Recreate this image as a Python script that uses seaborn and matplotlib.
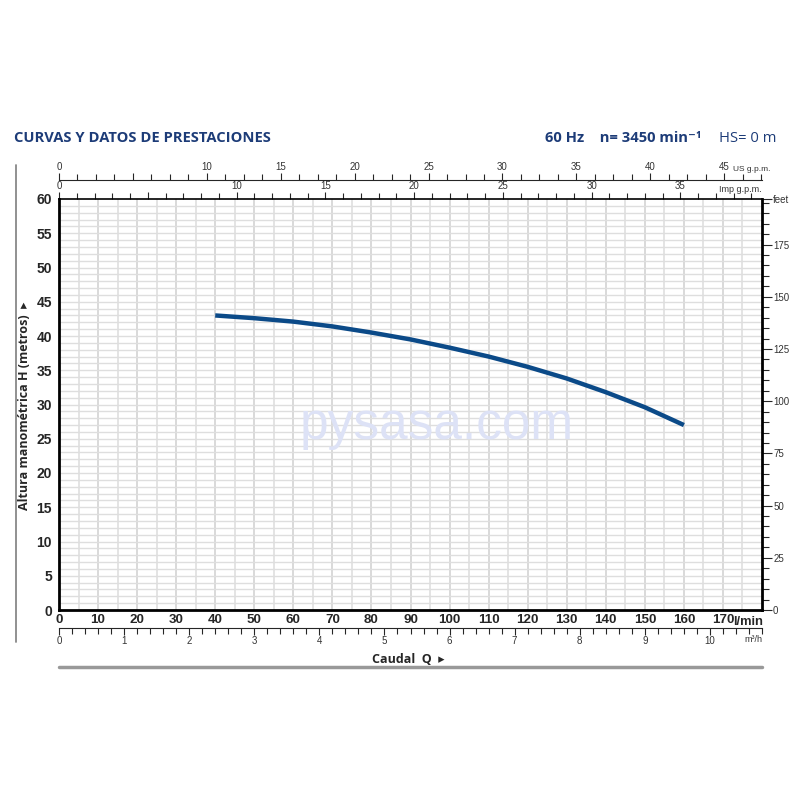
import warnings
warnings.filterwarnings("ignore")

import numpy as np
import pandas as pd
import matplotlib.pyplot as plt
import matplotlib.transforms as mtransforms
from matplotlib.lines import Line2D
import seaborn as sns

sns.set_theme(style="white")
plt.rcParams["font.family"] = ["Liberation Sans", "DejaVu Sans"]

# pump curve (flow in l/min, head in m)
flow_lmin = [40, 50, 60, 70, 80, 90, 100, 110, 120, 130, 140, 150, 160]
head_m = [43.0, 42.6, 42.1, 41.4, 40.5, 39.5, 38.3, 37.0, 35.5, 33.8, 31.8, 29.6, 27.0]

lmin_ticks = list(range(0, 180, 10))
head_ticks = list(range(0, 65, 5))
m3h_ticks = list(range(0, 11))
feet_ticks = list(range(0, 200, 25))
us_ticks = list(range(0, 50, 5))
imp_ticks = list(range(0, 40, 5))

NAVY = "#1d3c78"
CURVE = "#0b4a88"
GREY = "#333333"
HEAD_FONT = ["Open Sans", "DejaVu Sans"]

df = pd.DataFrame({"Q": flow_lmin, "H": head_m})

fig = plt.figure(figsize=(8, 8), dpi=100)
ax = fig.add_axes([0.07375, 0.2375, 0.87875, 0.51375])

# grid
for x in np.arange(5, 180, 5):
    ax.axvline(x, color="#cfcfcf" if x % 10 == 0 else "#dcdcdc", lw=1.1, zorder=0)
for y in np.arange(1, 60, 1):
    ax.axhline(y, color="#dedede", lw=1.0, zorder=0)

sns.lineplot(data=df, x="Q", y="H", ax=ax, color=CURVE, lw=3.2,
             solid_capstyle="butt", zorder=3)

ax.set_xlim(0, 180)
ax.set_ylim(0, 60)
ax.set_xlabel("")
ax.set_ylabel("")
for s in ["left", "bottom", "right"]:
    ax.spines[s].set_linewidth(2)
    ax.spines[s].set_color("black")
ax.spines["top"].set_linewidth(1.2)
ax.spines["top"].set_color("black")

ax.set_xticks(lmin_ticks)
ax.set_xticklabels([str(v) for v in lmin_ticks], fontweight="bold", fontsize=9.6)
ax.set_yticks(head_ticks)
ax.set_yticklabels([str(v) for v in head_ticks], fontweight="bold", fontsize=10)
ax.tick_params(axis="x", length=0, pad=3)
ax.tick_params(axis="y", length=0, pad=5)
ax.text(180.3, -0.014, "l/min", transform=mtransforms.blended_transform_factory(ax.transData, ax.transAxes),
        ha="right", va="top", fontsize=9.3, fontweight="bold")

# bottom m3/h scale
sec_m3 = ax.secondary_xaxis(-0.044, functions=(lambda q: q * 0.06, lambda m: m / 0.06))
sec_m3.set_xticks(m3h_ticks)
sec_m3.set_xticklabels([str(v) for v in m3h_ticks], fontsize=7, color=GREY)
sec_m3.set_xticks(np.arange(0, 10.81, 0.2), minor=True)
sec_m3.tick_params(which="major", direction="out", length=5, width=0.8, pad=1)
sec_m3.tick_params(which="minor", direction="out", length=4, width=0.8)
sec_m3.spines["bottom"].set_linewidth(0.8)
ax.text(180, -0.071, "m³/h", transform=mtransforms.blended_transform_factory(ax.transData, ax.transAxes),
        ha="right", va="center", fontsize=6.5, color=GREY)

# top Imp g.p.m. scale on the frame
sec_imp = ax.secondary_xaxis("top", functions=(lambda q: q / 4.546, lambda g: g * 4.546))
sec_imp.set_xticks(imp_ticks)
sec_imp.set_xticklabels(["" if v == 5 else str(v) for v in imp_ticks], fontsize=7, color=GREY)
sec_imp.set_xticks(np.arange(0, 39.6, 1), minor=True)
sec_imp.tick_params(which="major", direction="out", length=5, width=0.8, pad=0.5)
sec_imp.tick_params(which="minor", direction="out", length=4, width=0.8)
sec_imp.spines["top"].set_visible(False)
ax.text(1.0, 1.024, "Imp g.p.m.", transform=ax.transAxes, ha="right", va="center",
        fontsize=6.5, color=GREY)

# top US g.p.m. scale
sec_us = ax.secondary_xaxis(1.046, functions=(lambda q: q / 3.785, lambda g: g * 3.785))
sec_us.set_xticks(us_ticks)
sec_us.set_xticklabels(["" if v == 5 else str(v) for v in us_ticks], fontsize=7, color=GREY)
sec_us.set_xticks(np.arange(0, 47.6, 1.25), minor=True)
sec_us.tick_params(which="major", direction="out", length=5, width=0.8, pad=0.5)
sec_us.tick_params(which="minor", direction="out", length=4, width=0.8)
sec_us.spines["top"].set_linewidth(0.8)
ax.text(0.959, 1.072, "US g.p.m.", transform=ax.transAxes, ha="left", va="center",
        fontsize=6, color=GREY)

# right feet scale
sec_ft = ax.secondary_yaxis("right", functions=(lambda h: h * 3.28084, lambda f: f / 3.28084))
sec_ft.set_yticks(feet_ticks + [60 * 3.28084])
sec_ft.set_yticklabels([str(v) for v in feet_ticks] + ["feet"], fontsize=7, color=GREY)
sec_ft.set_yticks(np.arange(0, 196, 5), minor=True)
sec_ft.tick_params(which="major", direction="out", length=7, width=0.8, pad=1)
sec_ft.tick_params(which="minor", direction="out", length=5, width=0.8)
sec_ft.spines["right"].set_visible(False)

# watermark
ax.text(0.538, 0.45, "pysasa.com", transform=ax.transAxes, ha="center", va="center",
        fontsize=37, color="#dde2f6", family="Liberation Sans", zorder=1)

# axis titles
fig.text(0.031, 0.493, "Altura manométrica H (metros)  ▸", rotation=90, ha="center", va="center",
         fontsize=9, fontweight="bold", family=HEAD_FONT)
fig.text(0.51, 0.176, "Caudal  Q  ▸", ha="center", va="center",
         fontsize=9, fontweight="bold", family=HEAD_FONT)

# header
fig.text(0.018, 0.827, "CURVAS Y DATOS DE PRESTACIONES", ha="left", va="center",
         fontsize=10.6, fontweight="bold", color=NAVY, family=HEAD_FONT)
fig.text(0.877, 0.827, "60 Hz    n= 3450 min⁻¹", ha="right", va="center",
         fontsize=10.6, fontweight="bold", color=NAVY, family=HEAD_FONT)
fig.text(0.97, 0.827, "HS= 0 m", ha="right", va="center",
         fontsize=10.6, color=NAVY, family=HEAD_FONT)

# frame lines
fig.add_artist(Line2D([0.02, 0.02], [0.198, 0.794], color="#888888", lw=1.3))
fig.add_artist(Line2D([0.07375, 0.9525], [0.166, 0.166], color="#999999", lw=2.5))

fig.savefig("out.png", dpi=100)
